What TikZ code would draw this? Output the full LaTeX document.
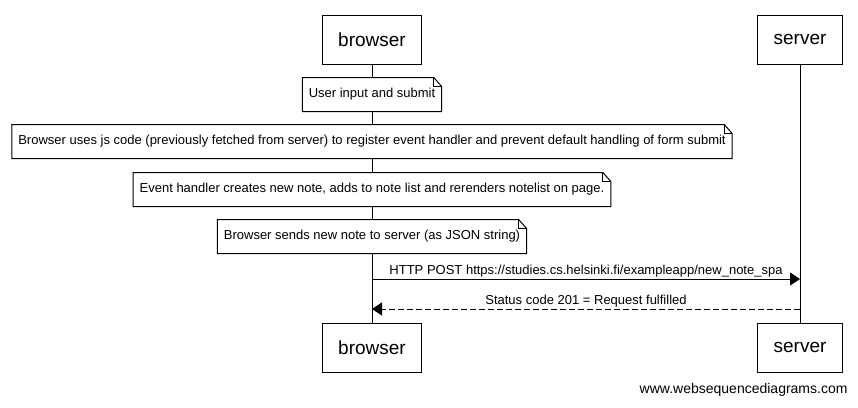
\documentclass[tikz,border=0pt]{standalone}
\usepackage{fontspec}
\setmainfont{Liberation Sans}
\usetikzlibrary{positioning,arrows.meta}
\def\dogear(#1){\draw (#1.north west) -- ([xshift=-8pt]#1.north east) -- ([yshift=-9pt]#1.north east) -- (#1.south east) -- (#1.south west) -- cycle;
	\draw ([xshift=-8pt]#1.north east) |- ([yshift=-9pt]#1.north east);}

\begin{document}
\begin{tikzpicture}[x=1pt,y=-1pt,line width=1pt,node distance=13pt,
	actor/.style={draw,minimum height=49pt,inner xsep=16pt,font=\fontsize{19}{22}\selectfont},
	note/.style={minimum height=33pt,inner xsep=6pt,font=\fontsize{13}{15}\selectfont},
	msg/.style={-{Triangle[length=10pt,width=13pt]}},
	lbl/.style={above,inner sep=1pt,font=\fontsize{13}{15}\selectfont}]
		%%%%% START %%%%%
		
		\useasboundingbox (0,0) rectangle (858,407);
		
		\node[actor] (browser) at (372,39.5) {browser};
		\node[actor] (server) at (800,39.5) {server};
		\node[actor] (browserB) at (372,347.5) {browser};
		\node[actor] (serverB) at (800,347.5) {server};
		
		\node[note, below=of browser] (input) {User input and submit};
		\node[note, below=of input] (handler) {Browser uses js code (previously fetched from server) to register event handler and prevent default handling of form submit};
		\node[note, below=14pt of handler] (render) {Event handler creates new note, adds to note list and rerenders notelist on page.};
		\node[note, below=of render] (send) {Browser sends new note to server (as JSON string)};
		\dogear(input)
		\dogear(handler)
		\dogear(render)
		\dogear(send)
		
		\draw (browser) -- (input);
		\draw (input) -- (handler);
		\draw (handler) -- (render);
		\draw (render) -- (send);
		\draw (send) -- (browserB);
		\draw (server) -- (serverB);
		
		\coordinate (post) at (0,279);
		\coordinate (reply) at (0,309);
		\draw[msg] (browser |- post) -- (server |- post) node[lbl, midway] {HTTP POST https://studies.cs.helsinki.fi/exampleapp/new\_note\_spa};
		\draw[msg, dash pattern=on 6pt off 3pt] (server |- reply) -- (browser |- reply) node[lbl, midway] {Status code 201 = Request fulfilled};
		
		\node[anchor=base east, inner sep=0pt, font=\fontsize{14}{16}\selectfont] (footer) at (848,393) {www.websequencediagrams.com};
		
		%%%%% END %%%%%
\end{tikzpicture}
\end{document}
